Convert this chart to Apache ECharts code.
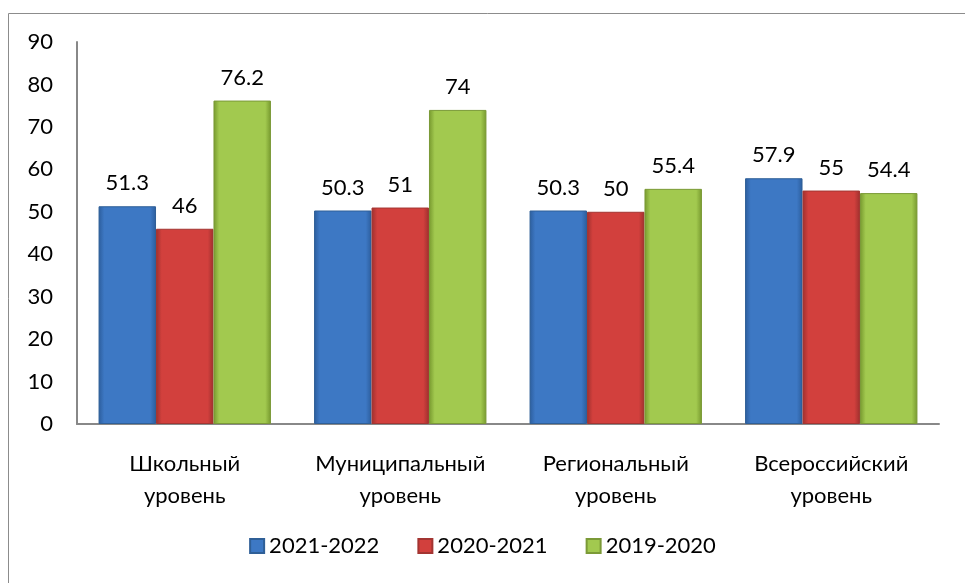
<!DOCTYPE html>
<html>
<head>
<meta charset="utf-8">
<script src="https://cdn.jsdelivr.net/npm/echarts@6/dist/echarts.min.js"></script>
<style>
  html, body { margin: 0; padding: 0; background: #fff; }
  #chart { width: 965px; height: 583px; }
</style>
</head>
<body>
<div id="chart"></div>
<script>
const categories = [
  'Школьный\nуровень',
  'Муниципальный\nуровень',
  'Региональный\nуровень',
  'Всероссийский\nуровень',
];
const years2021 = [51.3, 50.3, 50.3, 57.9];
const years2020 = [46, 51, 50, 55];
const years2019 = [76.2, 74, 55.4, 54.4];

const font = 'Lato';

// bevel-like horizontal gradient: dark edge, light middle, dark edge
const bevel = (edge, mid) => ({
  type: 'linear', x: 0, y: 0, x2: 1, y2: 0,
  colorStops: [
    { offset: 0, color: edge },
    { offset: 0.1, color: mid },
    { offset: 0.9, color: mid },
    { offset: 1, color: edge },
  ],
});

const makeSeries = (name, data, edge, mid, border) => ({
  name,
  type: 'bar',
  data,
  barGap: 0,
  barCategoryGap: '20%',
  itemStyle: { color: bevel(edge, mid), borderColor: border, borderWidth: 1 },
  label: {
    show: true,
    position: 'top',
    distance: 12,
    color: '#000',
    fontFamily: font,
    fontSize: 22,
  },
});

const chart = echarts.init(document.getElementById('chart'));
chart.setOption({
  animation: false,
  graphic: [
    {
      // chart frame, only left and top edges fall inside the picture
      type: 'rect',
      shape: { x: 8.5, y: 13.5, width: 980, height: 600 },
      style: { fill: 'none', stroke: '#8c8c8c', lineWidth: 1 },
      z: -1,
    },
  ],
  grid: { left: 77, right: 26, top: 42, bottom: 159 },
  legend: {
    bottom: 21,
    left: 'center',
    itemWidth: 14,
    itemHeight: 14,
    itemGap: 38,
    icon: 'rect',
    textStyle: { fontFamily: font, fontSize: 22, color: '#000' },
  },
  xAxis: {
    type: 'category',
    data: categories,
    axisLine: { lineStyle: { color: '#888', width: 2 } },
    axisTick: { show: false },
    axisLabel: {
      interval: 0,
      fontFamily: font,
      fontSize: 22,
      color: '#000',
      margin: 24,
      lineHeight: 32,
    },
  },
  yAxis: {
    type: 'value',
    min: 0,
    max: 90,
    interval: 10,
    axisLine: { show: true, lineStyle: { color: '#888', width: 2 } },
    axisTick: { show: false },
    splitLine: { show: false },
    axisLabel: { fontFamily: font, fontSize: 22, color: '#000', margin: 24 },
  },
  series: [
    makeSeries('2021-2022', years2021, '#2c5d9c', '#3d78c4', '#2f5f97'),
    makeSeries('2020-2021', years2020, '#9e302e', '#d2403d', '#a33532'),
    makeSeries('2019-2020', years2019, '#76982e', '#a2c94f', '#7b9a37'),
  ],
});
</script>
</body>
</html>
